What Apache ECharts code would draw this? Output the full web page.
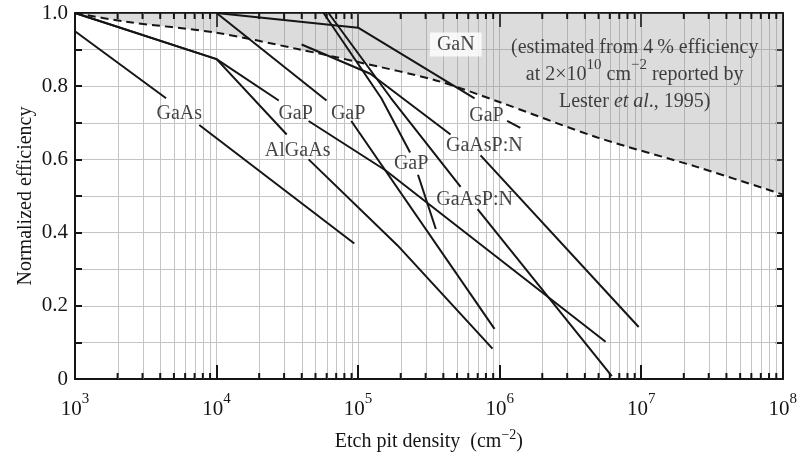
<!DOCTYPE html>
<html>
<head>
<meta charset="utf-8">
<script src="https://cdn.jsdelivr.net/npm/echarts@6/dist/echarts.min.js"></script>
<style>
  html, body { margin: 0; padding: 0; background: #fff; }
  #chart { width: 800px; height: 457px; }
</style>
</head>
<body>
<div id="chart"></div>
<script>
// Axis ranges and tick positions
const xDecades = [1e3, 1e4, 1e5, 1e6, 1e7, 1e8];
const minorMultipliers = [2, 3, 4, 5, 6, 7, 8, 9];

// GaN estimate: boundary of the shaded region (normalized efficiency vs etch pit density)
const ganBoundary = [
  [1e3, 1.0], [2.3e3, 0.976], [1e4, 0.946], [3.8e4, 0.901], [1e5, 0.866],
  [3.6e5, 0.815], [9.6e5, 0.759], [4.9e6, 0.66], [2.5e7, 0.579], [1e8, 0.504]
];

// Measured curves; each curve is split where its label sits on it
const gaAs = [
  [[1000, 0.95], [4400, 0.767]],
  [[7550, 0.694], [94000, 0.37]]
];
const alGaAs = [
  [[1000, 1.0], [10000, 0.874], [31300, 0.668]],
  [[44700, 0.60], [190000, 0.365], [890000, 0.083]]
];
const gaP1 = [
  [[1000, 1.0], [10000, 0.874], [27500, 0.761]],
  [[44700, 0.705], [155000, 0.571], [5600000, 0.102]]
];
const gaP2 = [
  [[10000, 1.0], [59800, 0.761]],
  [[89500, 0.705], [920000, 0.137]]
];
const gaP3 = [
  [[57000, 1.0], [146000, 0.767], [233000, 0.619]],
  [[265000, 0.558], [354000, 0.41]]
];
const gaP4 = [
  [[10000, 1.0], [100000, 0.96], [665000, 0.767]],
  [[1130000, 0.705], [1400000, 0.686]]
];
const gaAsPN1 = [
  [[39900, 0.914], [122000, 0.834], [450000, 0.668]],
  [[733000, 0.611], [9600000, 0.142]]
];
const gaAsPN2 = [
  [[61800, 1.0], [171000, 0.767], [530000, 0.525]],
  [[698000, 0.464], [6200000, 0.008]]
];

// Curve labels (text, density, efficiency)
const curveLabels = [
  ['GaAs', 5450, 0.726],
  ['GaP', 36200, 0.724],
  ['GaP', 85000, 0.724],
  ['AlGaAs', 37400, 0.624],
  ['GaP', 237000, 0.588],
  ['GaP', 807000, 0.718],
  ['GaAsP:N', 780000, 0.636],
  ['GaAsP:N', 665000, 0.491]
];
const ganLabel = ['GaN', 490000, 0.914];
const noteAnchor = [9.0e6, 0.840];

const FONT = '"Liberation Serif", "Times New Roman", serif';
const GRID_COLOR = '#c4c4c4';
const INK = '#151515';

const minorTicks = [];
xDecades.slice(0, -1).forEach(d => minorMultipliers.forEach(m => minorTicks.push([d * m, 0])));

const curveSeries = [];
[gaAs, alGaAs, gaP1, gaP2, gaP3, gaP4, gaAsPN1, gaAsPN2].forEach(curve => {
  curve.forEach(seg => {
    curveSeries.push({
      type: 'line',
      data: seg,
      symbol: 'none',
      z: 4,
      lineStyle: { color: INK, width: 2 },
      silent: true,
      animation: false
    });
  });
});

function supLabel(v) {
  return '{b|10}{s|' + Math.round(Math.log10(v)) + '}';
}

const chart = echarts.init(document.getElementById('chart'), null, { renderer: 'canvas' });

const baseXAxis = {
  type: 'log',
  logBase: 10,
  min: 1e3,
  max: 1e8,
  axisLine: { show: true, onZero: false, lineStyle: { color: INK, width: 2 } },
  axisTick: { show: true, inside: true, length: 14, lineStyle: { color: INK, width: 2 } }
};

chart.setOption({
  backgroundColor: '#fff',
  animation: false,
  grid: { left: 75, right: 13, top: 13, bottom: 71, containLabel: false },
  xAxis: [
    Object.assign({}, baseXAxis, {
      position: 'bottom',
      axisLabel: {
        formatter: supLabel,
        margin: 13,
        rich: {
          b: { fontFamily: FONT, fontSize: 21, color: INK, verticalAlign: 'bottom', lineHeight: 28 },
          s: { fontFamily: FONT, fontSize: 15, color: INK, verticalAlign: 'top', lineHeight: 28 }
        }
      },
      splitLine: { show: true, lineStyle: { color: GRID_COLOR, width: 1 } },
      name: '{t|Etch pit density  (cm}{s|−2}{t|)}',
      nameLocation: 'middle',
      nameGap: 49,
      nameMoveOverlap: false,
      nameTextStyle: {
        rich: {
          t: { fontFamily: FONT, fontSize: 20, color: INK, verticalAlign: 'bottom', lineHeight: 24 },
          s: { fontFamily: FONT, fontSize: 14, color: INK, verticalAlign: 'top', lineHeight: 24 }
        }
      }
    }),
    Object.assign({}, baseXAxis, {
      position: 'top',
      axisLabel: { show: false },
      splitLine: { show: false }
    })
  ],
  yAxis: [
    {
      type: 'value',
      min: 0,
      max: 1,
      interval: 0.1,
      position: 'left',
      axisLine: { show: true, onZero: false, lineStyle: { color: INK, width: 2 } },
      axisTick: { show: true, inside: true, length: 7, lineStyle: { color: INK, width: 2 } },
      axisLabel: {
        fontFamily: FONT,
        fontSize: 21,
        color: INK,
        margin: 7,
        formatter: v => {
          const k = Math.round(v * 10);
          if (k % 2) return '';
          return k === 0 ? '0' : (k / 10).toFixed(1);
        }
      },
      splitLine: { show: true, lineStyle: { color: GRID_COLOR, width: 1 } },
      name: 'Normalized efficiency',
      nameLocation: 'middle',
      nameRotate: 90,
      nameGap: 39,
      nameMoveOverlap: false,
      nameTextStyle: { fontFamily: FONT, fontSize: 20, color: INK }
    },
    {
      type: 'value',
      min: 0,
      max: 1,
      interval: 0.1,
      position: 'right',
      axisLine: { show: true, onZero: false, lineStyle: { color: INK, width: 2 } },
      axisTick: { show: true, inside: true, length: 7, lineStyle: { color: INK, width: 2 } },
      axisLabel: { show: false },
      splitLine: { show: false }
    }
  ],
  series: [
    // minor vertical grid lines at 2..9 of each decade
    {
      type: 'custom',
      z: 1,
      silent: true,
      clip: false,
      data: minorTicks,
      encode: { x: 0, y: 1 },
      renderItem: (params, api) => {
        const v = api.value(0);
        const b = api.coord([v, 0]);
        const t = api.coord([v, 1]);
        const x = Math.round(b[0]) + 0.5;
        return {
          type: 'line',
          shape: { x1: x, y1: b[1], x2: x, y2: t[1] },
          style: { stroke: GRID_COLOR, lineWidth: 1 }
        };
      }
    },
    // shaded GaN region above the estimate boundary
    {
      type: 'line',
      data: ganBoundary,
      symbol: 'none',
      smooth: 0.3,
      z: 2,
      silent: true,
      lineStyle: { color: INK, width: 2, type: [8, 5] },
      areaStyle: { origin: 'end', color: 'rgba(145,145,145,0.45)' }
    },
    // minor ticks on bottom and top axes
    {
      type: 'custom',
      z: 6,
      silent: true,
      clip: false,
      data: minorTicks,
      encode: { x: 0, y: 1 },
      renderItem: (params, api) => {
        const v = api.value(0);
        const b = api.coord([v, 0]);
        const t = api.coord([v, 1]);
        return {
          type: 'group',
          children: [
            { type: 'line', shape: { x1: b[0], y1: b[1], x2: b[0], y2: b[1] - 6 }, style: { stroke: INK, lineWidth: 2 } },
            { type: 'line', shape: { x1: t[0], y1: t[1], x2: t[0], y2: t[1] + 6 }, style: { stroke: INK, lineWidth: 2 } }
          ]
        };
      }
    },
    ...curveSeries,
    // curve labels
    {
      type: 'scatter',
      symbolSize: 0,
      z: 7,
      silent: true,
      data: curveLabels.map(([txt, x, y]) => ({
        value: [x, y],
        label: { show: true, position: 'inside', formatter: txt }
      })),
      label: { fontFamily: FONT, fontSize: 20, color: INK }
    },
    // GaN label and note
    {
      type: 'scatter',
      symbolSize: 0,
      z: 7,
      silent: true,
      data: [
        {
          value: [ganLabel[1], ganLabel[2]],
          label: {
            show: true, position: 'inside', formatter: ganLabel[0],
            backgroundColor: '#fff', padding: [3, 7, 1, 7],
            fontFamily: FONT, fontSize: 20, color: INK
          }
        },
        {
          value: noteAnchor,
          label: {
            show: true, position: 'inside', align: 'center',
            formatter: '{t|(estimated from 4\u2009% efficiency}\n' +
                       '{t|at 2\u00d710}{s|10}{t| cm}{s|\u22122}{t| reported by}\n' +
                       '{t|Lester }{i|et al}{t|., 1995)}',
            rich: {
              t: { fontFamily: FONT, fontSize: 20, color: INK, lineHeight: 27, verticalAlign: 'bottom' },
              i: { fontFamily: FONT, fontSize: 20, color: INK, fontStyle: 'italic', lineHeight: 27, verticalAlign: 'bottom' },
              s: { fontFamily: FONT, fontSize: 15, color: INK, lineHeight: 27, verticalAlign: 'top' }
            }
          }
        }
      ]
    }
  ]
});
</script>
</body>
</html>
